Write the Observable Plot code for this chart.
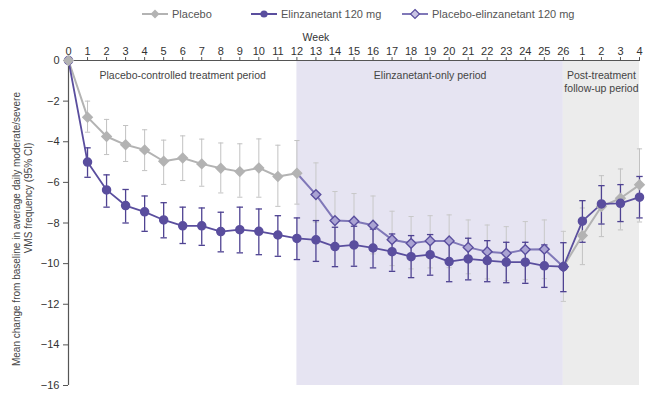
<!DOCTYPE html>
<html>
<head>
<meta charset="utf-8">
<script src="https://cdn.jsdelivr.net/npm/d3@7"></script>
<script src="https://cdn.jsdelivr.net/npm/@observablehq/plot@0.6"></script>
<style>
  html, body { margin: 0; padding: 0; background: #fff; }
  body { width: 648px; height: 394px; overflow: hidden; font-family: "Liberation Sans", Arial, sans-serif; }
  #legend { height: 28px; font-size: 11px; color: #555; position: relative; }
  .item { position: absolute; top: 8px; display: flex; align-items: center; line-height: 12px; }
  .item svg { margin-right: 4px; }
</style>
</head>
<body>
<div id="legend">
  <div class="item" style="left:142px"><svg width="26" height="12"><line x1="0" y1="6" x2="26" y2="6" stroke="#b3b3b3" stroke-width="2"/><path d="M13,1.5 L17.5,6 L13,10.5 L8.5,6 Z" fill="#b3b3b3"/></svg>Placebo</div>
  <div class="item" style="left:251px"><svg width="26" height="12"><line x1="0" y1="6" x2="26" y2="6" stroke="#5a4e9e" stroke-width="2"/><circle cx="13" cy="6" r="3.6" fill="#5a4e9e"/></svg>Elinzanetant 120 mg</div>
  <div class="item" style="left:402px"><svg width="26" height="12"><line x1="0" y1="6" x2="26" y2="6" stroke="#8078b8" stroke-width="2"/><path d="M13,1.5 L17.5,6 L13,10.5 L8.5,6 Z" fill="#c9c4e4" stroke="#5a4e9e" stroke-width="1.2"/></svg>Placebo-elinzanetant 120 mg</div>
</div>
<div id="chart"></div>
<script>
// Week tick labels (positions 0..30; last four are follow-up weeks)
const weekLabels = ["0","1","2","3","4","5","6","7","8","9","10","11","12","13","14","15","16","17","18","19","20","21","22","23","24","25","26","1","2","3","4"];

// Placebo, weeks 0-12
const placeboPos   = [0,1,2,3,4,5,6,7,8,9,10,11,12];
const placeboMean  = [0,-2.79,-3.74,-4.15,-4.40,-4.96,-4.80,-5.09,-5.30,-5.47,-5.29,-5.71,-5.55];
const placeboLo    = [null,-3.53,-4.63,-4.97,-5.42,-6.10,-5.91,-6.19,-6.52,-6.73,-6.73,-7.18,-7.07];
const placeboHi    = [null,-2.00,-2.90,-3.20,-3.41,-3.92,-3.71,-3.87,-4.06,-4.10,-3.86,-4.17,-3.94];

// Elinzanetant 120 mg, weeks 0-26 and follow-up 1-4
const elinzPos  = d3.range(0, 31);
const elinzMean = [0,-5.00,-6.37,-7.14,-7.45,-7.85,-8.14,-8.14,-8.42,-8.33,-8.41,-8.59,-8.76,-8.83,-9.16,-9.08,-9.23,-9.41,-9.66,-9.56,-9.90,-9.77,-9.85,-9.93,-9.93,-10.11,-10.15,-7.91,-7.06,-7.03,-6.73];
const elinzLo   = [null,-5.75,-7.22,-8.00,-8.41,-8.73,-9.01,-9.10,-9.42,-9.47,-9.56,-9.64,-9.80,-9.89,-10.15,-10.13,-10.21,-10.38,-10.69,-10.57,-10.89,-10.80,-10.89,-10.94,-10.97,-11.17,-11.38,-8.95,-8.05,-7.93,-7.75];
const elinzHi   = [null,-4.30,-5.63,-6.35,-6.67,-7.00,-7.22,-7.26,-7.47,-7.22,-7.31,-7.64,-7.75,-7.88,-8.21,-8.16,-8.30,-8.54,-8.62,-8.57,-8.92,-8.75,-8.87,-8.95,-8.95,-9.08,-8.97,-6.90,-6.16,-6.11,-5.71];

// Placebo-elinzanetant 120 mg, weeks 12-26 (week 12 = end of placebo)
const switchPos  = [12,13,14,15,16,17,18,19,20,21,22,23,24,25,26];
const switchMean = [-5.55,-6.60,-7.88,-7.91,-8.11,-8.82,-9.00,-8.88,-8.88,-9.20,-9.41,-9.49,-9.31,-9.29,-10.15];
const switchLo   = [null,-7.96,-9.28,-9.28,-9.52,-10.10,-10.26,-10.21,-10.20,-10.50,-10.75,-10.84,-10.79,-10.74,-11.86];
const switchHi   = [null,-5.04,-6.45,-6.55,-6.67,-7.42,-7.68,-7.64,-7.60,-7.85,-8.10,-8.18,-7.93,-7.85,-8.41];

// Placebo-elinzanetant group, post-treatment follow-up (drawn grey)
const followPos  = [26,27,28,29,30];
const followMean = [-10.15,-8.62,-7.19,-6.78,-6.12];
const followLo   = [null,-10.05,-8.67,-8.34,-7.95];
const followHi   = [null,-7.26,-5.67,-5.34,-4.35];

// Period shading and labels
const periodStart = [0, 12, 26];
const periodEnd   = [12, 26, 30];
const periodFill  = ["#ffffff", "#e6e4f2", "#ececec"];
const periodLabel = ["Placebo-controlled treatment period", "Elinzanetant-only period", "Post-treatment\nfollow-up period"];

// Y-axis title lines
const yTitle1 = "Mean change from baseline in average daily moderate/severe";
const yTitle2 = "VMS frequency (95% CI)";

const rows = (pos, mean, lo, hi) => pos.map((x, i) => ({x, y: mean[i], lo: lo[i], hi: hi[i]}));
const placebo = rows(placeboPos, placeboMean, placeboLo, placeboHi);
const elinz = rows(elinzPos, elinzMean, elinzLo, elinzHi);
const switched = rows(switchPos, switchMean, switchLo, switchHi);
const follow = rows(followPos, followMean, followLo, followHi);
const periods = periodStart.map((s, i) => ({s, e: periodEnd[i], fill: periodFill[i], label: periodLabel[i], mid: (s + periodEnd[i]) / 2}));

const capSymbol = (w) => ({draw(ctx, size) { ctx.moveTo(-w, 0); ctx.lineTo(w, 0); }});
const cap4 = capSymbol(3.2);
const cap3 = capSymbol(2.6);

function errorBars(data, color, width, cap) {
  const d = data.filter(r => r.lo != null);
  return [
    Plot.ruleX(d, {x: "x", y1: "lo", y2: "hi", stroke: color, strokeWidth: width}),
    Plot.dot(d, {x: "x", y: "lo", symbol: cap, stroke: color, strokeWidth: width, fill: "none", r: 3}),
    Plot.dot(d, {x: "x", y: "hi", symbol: cap, stroke: color, strokeWidth: width, fill: "none", r: 3})
  ];
}

const grey = "#b3b3b3";
const purple = "#5a4e9e";
const switchLine = "#8078b8";

const chart = Plot.plot({
  width: 648,
  height: 366,
  marginTop: 32,
  marginBottom: 9,
  marginLeft: 68,
  marginRight: 9,
  style: {fontFamily: "Liberation Sans, Arial, sans-serif", fontSize: "11px", color: "#444", background: "transparent"},
  x: {domain: [0, 30], axis: null},
  y: {domain: [-16, 0], axis: null},
  marks: [
    Plot.rect(periods, {x1: "s", x2: "e", y1: -16, y2: 0, fill: "fill"}),
    Plot.text(periods, {x: "mid", y: 0, text: "label", dy: 9, frameAnchor: "top", lineAnchor: "top", fontSize: 10.5, fill: "#444", lineHeight: 1.25}),
    Plot.axisX({anchor: "top", ticks: d3.range(0, 31), tickFormat: i => weekLabels[i], tickSize: 4, tickPadding: 2, stroke: "#555", fill: "#333", fontSize: 11, label: null}),
    Plot.text(["Week"], {x: 13, frameAnchor: "top", dy: -27, fontSize: 10.5, fill: "#333"}),
    Plot.axisY({anchor: "left", ticks: d3.range(-16, 1, 2), tickSize: 5, tickPadding: 4, stroke: "#555", fill: "#333", fontSize: 11, label: null}),
    Plot.text([yTitle1], {frameAnchor: "left", textAnchor: "middle", dx: -52, dy: 6, rotate: -90, fontSize: 10, fill: "#444"}),
    Plot.text([yTitle2], {frameAnchor: "left", textAnchor: "middle", dx: -40, dy: -25, rotate: -90, fontSize: 10, fill: "#444"}),
    Plot.ruleX([0], {stroke: "#555", strokeWidth: 1.2}),
    Plot.ruleY([0], {stroke: "#555", strokeWidth: 1.2}),
    ...errorBars(placebo, "#c2c2c2", 1, cap3),
    ...errorBars(switched, "#c8c8c8", 1, cap3),
    ...errorBars(follow, "#c2c2c2", 1, cap3),
    ...errorBars(elinz, "#4f4392", 1.3, cap4),
    Plot.line(placebo, {x: "x", y: "y", stroke: grey, strokeWidth: 2}),
    Plot.line(follow, {x: "x", y: "y", stroke: grey, strokeWidth: 2}),
    Plot.line(switched, {x: "x", y: "y", stroke: switchLine, strokeWidth: 2}),
    Plot.line(elinz, {x: "x", y: "y", stroke: purple, strokeWidth: 1.8}),
    Plot.dot(placebo.filter(d => d.x > 0), {x: "x", y: "y", symbol: "diamond2", r: 4.2, fill: grey, stroke: grey}),
    Plot.dot(follow.slice(1), {x: "x", y: "y", symbol: "diamond2", r: 4.2, fill: grey, stroke: grey}),
    Plot.dot(switched.slice(1), {x: "x", y: "y", symbol: "diamond2", r: 4.4, fill: "#aaa3d3", stroke: "#5a4e9e", strokeWidth: 1.4}),
    Plot.dot(elinz, {x: "x", y: "y", r: 4, fill: purple, stroke: purple}),
    Plot.dot(placebo.filter(d => d.x === 0), {x: "x", y: "y", symbol: "diamond2", r: 4.2, fill: grey, stroke: grey})
  ]
});
document.getElementById("chart").appendChild(chart);
</script>
</body>
</html>
